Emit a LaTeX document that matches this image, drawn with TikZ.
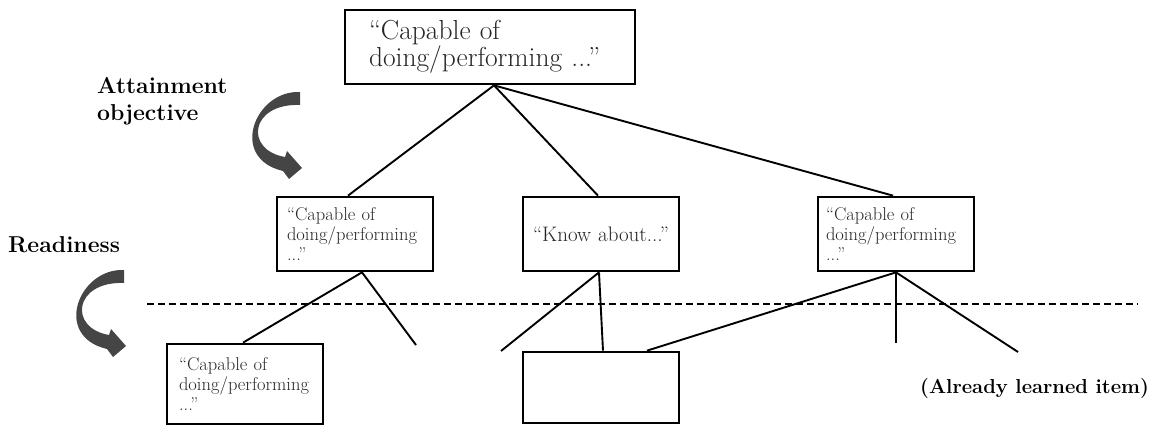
\documentclass[tikz,border=0pt]{standalone}
\usepackage{fontspec}
\usetikzlibrary{calc}
\tikzset{
  box/.style={draw, line width=2.7pt, minimum width=156pt, minimum height=74pt, inner xsep=10pt, inner ysep=0pt, align=left, text=black!85, font=\fontsize{18.5}{20}\selectfont},
  conn/.style={line width=1.9pt},
  sep/.style={line width=1.6pt, dash pattern=on 7pt off 4pt},
  lbl/.style={anchor=base west, inner sep=0pt, font=\bfseries\fontsize{23}{27}\selectfont, align=left},
  curvearrow/.style={fill=black!73},
}
\begin{document}
\begin{tikzpicture}[x=1pt,y=-1pt]
\useasboundingbox (0,0) rectangle (1152,425);

% boxes
\node[box, minimum width=290pt, inner xsep=24pt, text width=242pt, font=\fontsize{27.5}{27}\selectfont] (top) at (490,47) {“Capable of\\doing/performing ...”};
\node[box, text width=136pt] (ml) at (355,234) {“Capable of\\doing/performing\\...”};
\node[box, inner xsep=4pt, text width=148pt, align=center, font=\fontsize{21}{22}\selectfont] (kn) at (601,234) {“Know about...”};
\node[box, inner xsep=8pt, text width=140pt] (rt) at (896,234) {“Capable of\\doing/performing\\...”};
\node[box, minimum height=80pt, inner xsep=12pt, text width=132pt] (bl) at (245,384) {“Capable of\\doing/performing\\...”};
\node[box, minimum height=71pt, text width=136pt] (bm) at (601,387.5) {};

% free ends
\coordinate (f1) at (416,345);
\coordinate (f2) at (501,351);
\coordinate (f3) at (896,343);
\coordinate (f4) at (1018,352);
\coordinate (dl) at (147,304);
\coordinate (dr) at (1138,304);

% separator
\draw[sep] (dl) -- (dr);

% connectors
\draw[conn] ([xshift=4pt]top.south) -- ([xshift=-7pt]ml.north);
\draw[conn] ([xshift=4pt]top.south) -- ([xshift=-3pt]kn.north);
\draw[conn] ([xshift=4pt]top.south) -- ([xshift=-3pt]rt.north);
\draw[conn] ([xshift=7pt]ml.south) -- ([xshift=-2pt]bl.north);
\draw[conn] ([xshift=7pt]ml.south) -- (f1);
\draw[conn] ([xshift=-2pt]kn.south) -- (f2);
\draw[conn] ([xshift=-2pt]kn.south) -- ([xshift=2pt]bm.north);
\draw[conn] ([xshift=46pt]bm.north) -- (rt.south);
\draw[conn] (rt.south) -- (f3);
\draw[conn] (rt.south) -- (f4);

% labels
\node[lbl] (att) at (97,121) {Attainment\\objective};
\node[lbl] (rd) at (8,252) {Readiness};
\node[lbl, font=\bfseries\fontsize{20.2}{22}\selectfont] (al) at (920,393) {(Already learned item)};

% curved arrows
\fill[curvearrow] (300,92) .. controls (255,90) and (228,158) .. (283,171) -- (289,179) -- (302,168) -- (287,151) -- (285,157) .. controls (244,150) and (250,103) .. (300,105) -- cycle;
\begin{scope}[shift={(-176,178)}]
\fill[curvearrow] (300,92) .. controls (255,90) and (228,158) .. (283,171) -- (289,179) -- (302,168) -- (287,151) -- (285,157) .. controls (244,150) and (250,103) .. (300,105) -- cycle;
\end{scope}
\end{tikzpicture}
\end{document}
